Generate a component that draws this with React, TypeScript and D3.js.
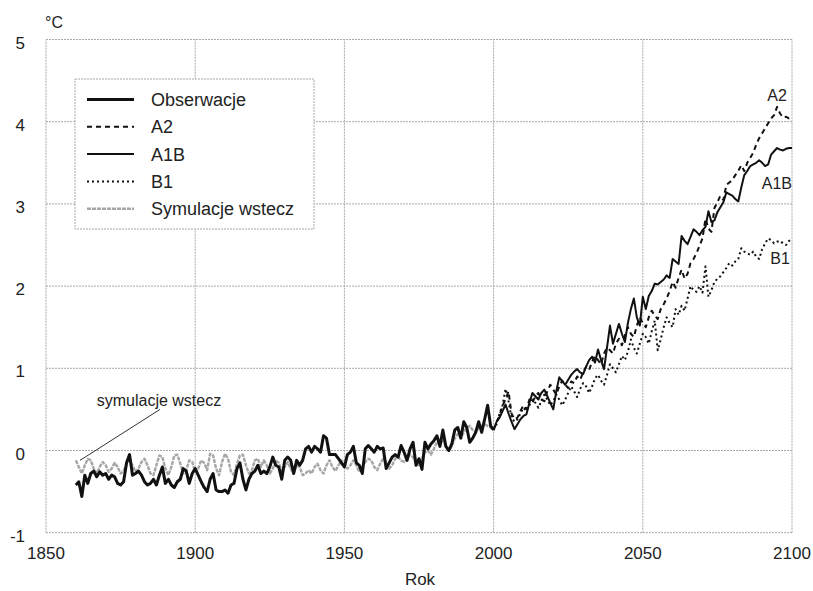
import React from "react";
import * as d3 from "d3";

const obsStart = 1860;
const observations = [
  -0.42, -0.38, -0.56, -0.30, -0.40, -0.28, -0.25, -0.32, -0.26, -0.30,
  -0.28, -0.35, -0.30, -0.32, -0.40, -0.42, -0.38, -0.15, -0.05, -0.30,
  -0.28, -0.25, -0.30, -0.38, -0.42, -0.40, -0.35, -0.42, -0.30, -0.20,
  -0.40, -0.35, -0.42, -0.45, -0.38, -0.35, -0.22, -0.25, -0.40, -0.28,
  -0.22, -0.30, -0.38, -0.45, -0.50, -0.35, -0.28, -0.48, -0.50, -0.50,
  -0.48, -0.52, -0.42, -0.40, -0.22, -0.15, -0.35, -0.48, -0.35, -0.28,
  -0.25, -0.18, -0.28, -0.25, -0.28, -0.20, -0.08, -0.18, -0.20, -0.35,
  -0.12, -0.08, -0.12, -0.28, -0.12, -0.18, -0.12, 0.02, 0.05, -0.02,
  0.05, 0.02, -0.02, 0.18, 0.15, -0.05, -0.05, -0.05, -0.10, -0.15,
  -0.20, -0.05, -0.02, 0.05, -0.15, -0.18, -0.28, 0.02, 0.06, 0.02,
  -0.02, 0.05, 0.02, 0.03, -0.22, -0.15, -0.08, -0.05, -0.08, 0.06,
  -0.02, -0.12, 0.02, 0.10, -0.18, -0.10, -0.23, 0.10, 0.02, 0.08,
  0.12, 0.18, 0.05, 0.25, 0.05, 0.00, 0.08, 0.25, 0.28, 0.15,
  0.35, 0.28, 0.10, 0.15, 0.22, 0.35, 0.22, 0.38, 0.55, 0.30,
  0.25,
];

const simStart = 1860;
const hindcast = [
  -0.12, -0.20, -0.28, -0.18, -0.10, -0.12, -0.22, -0.28, -0.20, -0.14,
  -0.18, -0.26, -0.22, -0.15, -0.20, -0.28, -0.25, -0.16, -0.12, -0.18,
  -0.26, -0.22, -0.14, -0.10, -0.18, -0.28, -0.30, -0.18, -0.06, -0.08,
  -0.22, -0.30, -0.20, -0.06, -0.05, -0.16, -0.28, -0.24, -0.12, -0.14,
  -0.26, -0.22, -0.12, -0.15, -0.24, -0.04, -0.06, -0.22, -0.30, -0.14,
  -0.04, -0.10, -0.26, -0.30, -0.16, -0.06, -0.05, -0.18, -0.28, -0.24,
  -0.12, -0.10, -0.20, -0.12, -0.18, -0.28, -0.22, -0.12, -0.15, -0.25,
  -0.20, -0.14, -0.22, -0.28, -0.18, -0.20, -0.30, -0.28, -0.24, -0.28,
  -0.20, -0.16, -0.24, -0.28, -0.18, -0.12, -0.20, -0.25, -0.18, -0.12,
  -0.16, -0.22, -0.18, -0.12, -0.18, -0.26, -0.20, -0.14, -0.10, -0.12,
  -0.20, -0.24, -0.16, -0.10, -0.14, -0.22, -0.18, -0.10, -0.08, -0.12,
  -0.14, -0.10, -0.05, -0.08, -0.16, -0.18, -0.10, -0.02, 0.00, -0.05,
  0.02, 0.10, 0.08, 0.12, 0.05, 0.00, 0.05, 0.15, 0.20, 0.15,
  0.22, 0.28, 0.30, 0.25, 0.22, 0.28, 0.30, 0.32, 0.30, 0.28,
  0.25,
];

const scenStart = 2000;
const a2 = [
  0.25, 0.35, 0.42, 0.55, 0.62, 0.72, 0.45, 0.38, 0.40, 0.48,
  0.55, 0.50, 0.62, 0.58, 0.66, 0.70, 0.62, 0.60, 0.72, 0.80,
  0.74, 0.68, 0.78, 0.85, 0.80, 0.76, 0.84, 0.82, 0.90, 0.86,
  0.95, 1.02, 0.98, 1.08, 1.15, 1.10, 1.05, 1.18, 1.25, 1.22,
  1.18, 1.30, 1.36, 1.28, 1.40, 1.50, 1.42, 1.38, 1.52, 1.62,
  1.55, 1.50, 1.62, 1.70, 1.64, 1.60, 1.72, 1.78, 1.85, 1.94,
  2.05, 1.98, 2.10, 2.20, 2.09, 2.15, 2.28, 2.33, 2.40, 2.49,
  2.58, 2.82, 2.70, 2.66, 2.95, 3.02, 3.10, 3.05, 3.23, 3.26,
  3.29, 3.35, 3.40, 3.47, 3.40, 3.50, 3.56, 3.62, 3.72, 3.80,
  3.86, 3.92, 3.98, 4.04, 4.08, 4.18, 4.10, 4.05, 4.06, 4.04,
  4.05,
];
const a1b = [
  0.25, 0.35, 0.40, 0.48, 0.56, 0.45, 0.35, 0.26, 0.32, 0.38,
  0.42, 0.44, 0.58, 0.70, 0.66, 0.62, 0.70, 0.74, 0.66, 0.58,
  0.50, 0.72, 0.89, 0.84, 0.80, 0.86, 0.92, 0.96, 0.99, 0.95,
  0.93, 1.02, 1.10, 1.14, 1.07, 1.23, 1.10, 0.99, 1.25, 1.52,
  1.30, 1.42, 1.54, 1.42, 1.32, 1.55, 1.72, 1.85, 1.62, 1.52,
  1.87, 1.72, 1.88, 1.94, 2.03, 2.02, 2.05, 2.08, 2.13, 2.10,
  2.33, 2.30, 2.27, 2.61, 2.55, 2.51, 2.60, 2.69, 2.66, 2.62,
  2.68, 2.72, 2.91, 2.78, 2.80, 2.90, 2.96, 3.02, 3.14, 3.12,
  3.10, 3.06, 3.03, 3.20, 3.35, 3.40, 3.46, 3.48, 3.50, 3.53,
  3.50, 3.46, 3.48, 3.60, 3.64, 3.68, 3.66, 3.65, 3.67, 3.68,
  3.68,
];
const b1 = [
  0.25, 0.32, 0.45, 0.55, 0.75, 0.60, 0.40, 0.35, 0.38, 0.45,
  0.52, 0.48, 0.55, 0.62, 0.58, 0.52, 0.60, 0.68, 0.62, 0.55,
  0.60, 0.68, 0.62, 0.55, 0.62, 0.70, 0.78, 0.72, 0.65, 0.75,
  0.82, 0.78, 0.70, 0.78, 0.88, 0.92, 0.85, 0.80, 0.92, 1.05,
  1.00, 0.95, 1.05, 1.15, 1.10, 1.20, 1.35, 1.25, 1.18, 1.30,
  1.42, 1.38, 1.30, 1.45, 1.58, 1.22, 1.35, 1.50, 1.62, 1.55,
  1.50, 1.72, 1.65, 1.76, 1.70, 1.85, 2.00, 1.95, 1.93, 2.00,
  1.92, 2.24, 1.87, 1.95, 2.05, 2.09, 2.12, 2.17, 2.22, 2.28,
  2.25, 2.30, 2.33, 2.46, 2.42, 2.40, 2.38, 2.42, 2.36, 2.33,
  2.45, 2.52, 2.58, 2.56, 2.52, 2.54, 2.55, 2.52, 2.50, 2.55,
  2.56,
];

const xTicks = [1850, 1900, 1950, 2000, 2050, 2100];
const yTicks = [-1, 0, 1, 2, 3, 4, 5];

const legendItems = [
  { label: "Obserwacje", key: "obs" },
  { label: "A2", key: "a2" },
  { label: "A1B", key: "a1b" },
  { label: "B1", key: "b1" },
  { label: "Symulacje wstecz", key: "sim" },
];

const styles: Record<string, { stroke: string; width: number; dash?: string }> = {
  obs: { stroke: "#111", width: 3 },
  a2: { stroke: "#111", width: 2, dash: "5,4" },
  a1b: { stroke: "#111", width: 2 },
  b1: { stroke: "#111", width: 2, dash: "2,3" },
  sim: { stroke: "#a6a6a6", width: 2.4, dash: "4,1" },
};

const FONT = "'Liberation Sans', Arial, sans-serif";

export default function App() {
  const W = 813;
  const H = 591;
  const m = { left: 46, right: 792, top: 39.5, bottom: 532.7 };
  const x = d3.scaleLinear().domain([1850, 2100]).range([m.left, m.right]);
  const y = d3.scaleLinear().domain([-1, 5]).range([m.bottom, m.top]);

  const line = d3
    .line<[number, number]>()
    .x((d) => x(d[0]))
    .y((d) => y(d[1]));

  const toPts = (start: number, vals: number[]): [number, number][] =>
    vals.map((v, i) => [start + i, v]);

  const series = [
    { key: "sim", d: line(toPts(simStart, hindcast)) },
    { key: "b1", d: line(toPts(scenStart, b1)) },
    { key: "a2", d: line(toPts(scenStart, a2)) },
    { key: "a1b", d: line(toPts(scenStart, a1b)) },
    { key: "obs", d: line(toPts(obsStart, observations)) },
  ];

  const gridStroke = "#a8a8a8";
  const legend = { x: 75, y: 79, w: 239, h: 150, row: 27.3 };

  return (
    <svg
      width={W}
      height={H}
      style={{ position: "absolute", left: 0, top: 0, background: "#fff" }}
      fontFamily={FONT}
    >
      <rect x={0} y={0} width={W} height={H} fill="#fff" />
      {xTicks.map((t) => (
        <line
          key={"gx" + t}
          x1={x(t)}
          x2={x(t)}
          y1={y(-1)}
          y2={y(5)}
          stroke={gridStroke}
          strokeWidth={1}
          strokeDasharray="2,1"
        />
      ))}
      {yTicks.map((t) => (
        <line
          key={"gy" + t}
          x1={x(1850)}
          x2={x(2100)}
          y1={y(t)}
          y2={y(t)}
          stroke={gridStroke}
          strokeWidth={1}
          strokeDasharray="2,1"
        />
      ))}
      {yTicks.map((t) => (
        <text
          key={"ly" + t}
          x={25}
          y={y(t) + 9}
          fontSize={17}
          textAnchor="end"
          fill="#222"
        >
          {t}
        </text>
      ))}
      {xTicks.map((t) => (
        <text
          key={"lx" + t}
          x={x(t)}
          y={559}
          fontSize={17}
          textAnchor="middle"
          fill="#222"
        >
          {t}
        </text>
      ))}
      <text x={45} y={28} fontSize={16} fill="#222">
        °C
      </text>
      <text x={420} y={585} fontSize={17} textAnchor="middle" fill="#222">
        Rok
      </text>

      {series.map((s) => {
        const st = styles[s.key];
        return (
          <path
            key={s.key}
            d={s.d || ""}
            fill="none"
            stroke={st.stroke}
            strokeWidth={st.width}
            strokeDasharray={st.dash}
            strokeLinejoin="round"
          />
        );
      })}

      <text x={x(2098.3)} y={y(4.25)} fontSize={16} textAnchor="end" fill="#222">
        A2
      </text>
      <text x={x(2100)} y={y(3.18)} fontSize={16} textAnchor="end" fill="#222">
        A1B
      </text>
      <text x={x(2099.3)} y={y(2.27)} fontSize={16} textAnchor="end" fill="#222">
        B1
      </text>
      <text x={x(1867)} y={y(0.54)} fontSize={16} fill="#222">
        symulacje wstecz
      </text>
      <line
        x1={x(1888.2)}
        y1={y(0.5)}
        x2={x(1861.4)}
        y2={y(-0.12)}
        stroke="#333"
        strokeWidth={1}
      />

      <rect
        x={legend.x}
        y={legend.y}
        width={legend.w}
        height={legend.h}
        fill="#fff"
        stroke={gridStroke}
        strokeWidth={1}
        strokeDasharray="2,1"
      />
      {legendItems.map((it, i) => {
        const st = styles[it.key];
        const cy = 99.5 + i * legend.row;
        return (
          <g key={it.key}>
            <line
              x1={87}
              x2={134}
              y1={cy}
              y2={cy}
              stroke={st.stroke}
              strokeWidth={st.width}
              strokeDasharray={st.dash}
            />
            <text x={151} y={cy + 6.5} fontSize={18} fill="#222">
              {it.label}
            </text>
          </g>
        );
      })}
    </svg>
  );
}
